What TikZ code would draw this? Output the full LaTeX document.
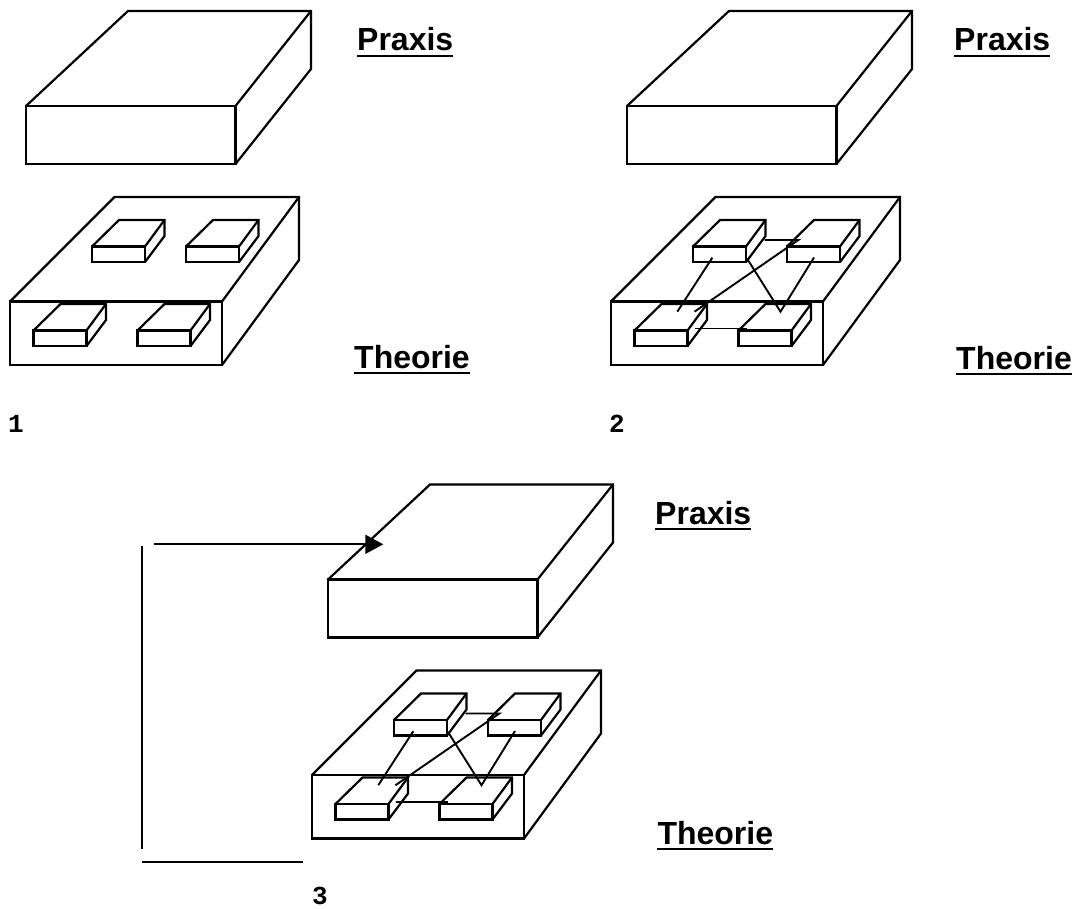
\documentclass[tikz,border=0pt]{standalone}
\usepackage{fontspec}
\setmainfont{Liberation Sans}
\newfontfamily\numfont{Liberation Mono}
\usetikzlibrary{arrows.meta}
\tikzset{
  edge/.style={line width=2.2pt, line join=miter},
  conn/.style={line width=1.9pt},
  brk/.style={line width=1.7pt},
  lbl/.style={inner sep=0pt, anchor=base west, font=\fontsize{32}{38}\selectfont\bfseries},
  num/.style={inner sep=0pt, anchor=base west, font=\fontsize{26}{30}\selectfont\numfont\bfseries},
  uline/.style={line width=2.5pt},
}
\newcommand\smallbox[2]{%
  \draw[edge] (#1,#2) rectangle ({#1+53},{#2+15.5});
  \draw[edge] (#1,#2) -- ({#1+27},{#2-26.5}) -- ({#1+72.5},{#2-26.5}) -- ({#1+72.5},{#2-10.5}) -- ({#1+53},{#2+15.5});
  \draw[edge] ({#1+53},#2) -- ({#1+72.5},{#2-26.5});
}
\newcommand\boxesset{%
  \draw[edge] (26,106) rectangle (235.5,164);
  \draw[edge] (26,106) -- (128,11) -- (311,11) -- (311,69) -- (235.5,164);
  \draw[edge] (235.5,106) -- (311,11);
  \draw[edge] (10,301.5) rectangle (222,365);
  \draw[edge] (10,301.5) -- (114.5,197) -- (299,197) -- (299,260) -- (222,365);
  \draw[edge] (222,301.5) -- (299,197);
  \smallbox{92}{246.5}\smallbox{186}{246.5}\smallbox{33.5}{330.5}\smallbox{137.5}{330.5}
}
\newcommand\linksset[1]{%
  \coordinate (p1#1) at (111.3,257.7); \coordinate (q1#1) at (76.3,311.7);
  \coordinate (p2#1) at (163.5,240); \coordinate (q2#1) at (197.3,240); \coordinate (r2#1) at (93.5,311.7);
  \coordinate (p3#1) at (146,258.5); \coordinate (q3#1) at (179.5,311.7); \coordinate (r3#1) at (213,257.5);
  \coordinate (p4#1) at (93.5,328.5); \coordinate (q4#1) at (146,328.5);
  \draw[conn] (p1#1) -- (q1#1);
  \draw[conn] (p2#1) -- (q2#1) -- (r2#1);
  \draw[conn] (p3#1) -- (q3#1) -- (r3#1);
  \draw[conn] (p4#1) -- (q4#1);
}
\begin{document}
\begin{tikzpicture}[x=1pt,y=-1pt]
\useasboundingbox (0,0) rectangle (1075,909);
% panel 1
\boxesset
% panel 2
\begin{scope}[shift={(601,0)}]
  \boxesset
  \linksset{b}
\end{scope}
% panel 3
\begin{scope}[shift={(302,473.5)}]
  \boxesset
  \linksset{c}
\end{scope}
% bracket with arrow
\coordinate (v1) at (142,546); \coordinate (v2) at (142,849.3);
\coordinate (a1) at (154.3,544.3); \coordinate (a2) at (383.3,544.3);
\coordinate (h1) at (142,862.3); \coordinate (h2) at (303.3,862.3);
\draw[brk] (v1) -- (v2);
\draw[brk, -{Triangle[length=18pt,width=19pt]}] (a1) -- (a2);
\draw[brk] (h1) -- (h2);
% labels
\foreach \n/\x/\y/\t in {pa/357/51/Praxis, pb/954/51/Praxis, pc/655/524/Praxis, ta/354/368/Theorie, tb/956/369/Theorie, tc/657.3/844/Theorie}{
  \node[lbl] (\n) at (\x,\y) {\t};
  \draw[uline] ([yshift=-5pt]\n.base west) -- ([yshift=-5pt]\n.base east);
}
\node[num] (n1) at (8,432) {1};
\node[num] (n2) at (609,432) {2};
\node[num] (n3) at (312,904) {3};
\end{tikzpicture}
\end{document}
